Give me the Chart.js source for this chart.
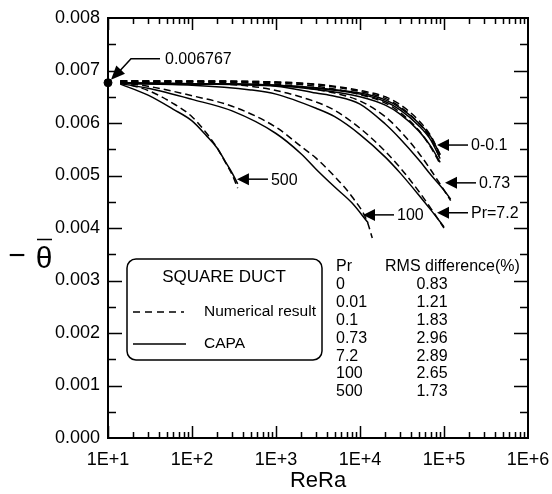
<!DOCTYPE html>
<html>
<head>
<meta charset="utf-8">
<script src="https://cdn.jsdelivr.net/npm/chart.js@4/dist/chart.umd.min.js"></script>
<style>
html, body { margin: 0; padding: 0; background: #fff; }
</style>
</head>
<body>
<canvas id="chart" width="552" height="494"></canvas>
<script>
// axis ticks
const xTickValues = [1e1, 1e2, 1e3, 1e4, 1e5, 1e6];
const xTickLabels = ['1E+1', '1E+2', '1E+3', '1E+4', '1E+5', '1E+6'];
const yTickValues = [0, 0.001, 0.002, 0.003, 0.004, 0.005, 0.006, 0.007, 0.008];
const yTickLabels = ['0.000', '0.001', '0.002', '0.003', '0.004', '0.005', '0.006', '0.007', '0.008'];

// Pr = 0, 0.01, 0.1
const lowPrX = [14, 100, 1000, 3000, 10000, 20000, 30000, 50000, 70000, 90000];
const pr0Num = [0.00680, 0.00680, 0.00678, 0.00674, 0.00662, 0.00650, 0.00635, 0.00605, 0.00575, 0.00540];
const pr0Capa = [0.00676, 0.00675, 0.00672, 0.00667, 0.00657, 0.00644, 0.00629, 0.00600, 0.00573, 0.00539];
const pr001Num = [0.00680, 0.00680, 0.00678, 0.00673, 0.00660, 0.00647, 0.00631, 0.00600, 0.00569, 0.00533];
const pr001Capa = [0.00676, 0.00675, 0.00672, 0.00666, 0.00655, 0.00641, 0.00625, 0.00595, 0.00567, 0.00532];
const pr01Num = [0.00680, 0.00679, 0.00676, 0.00670, 0.00654, 0.00638, 0.00620, 0.00586, 0.00553, 0.00522];
const pr01Capa = [0.00676, 0.00675, 0.00671, 0.00664, 0.00650, 0.00634, 0.00617, 0.00585, 0.00555, 0.00525];

// Pr = 0.73
const pr073X = [14, 100, 1000, 3000, 5000, 10000, 20000, 30000, 50000, 70000, 100000, 120000];
const pr073Num = [0.00679, 0.00678, 0.00674, 0.00664, 0.00657, 0.00642, 0.00612, 0.00585, 0.00543, 0.00510, 0.00472, 0.00452];
const pr073Capa = [0.00676, 0.00674, 0.00670, 0.00657, 0.00651, 0.00636, 0.00598, 0.00570, 0.00530, 0.00501, 0.00472, 0.00455];

// Pr = 7.2
const pr72X = [14, 100, 500, 1000, 3000, 5000, 10000, 20000, 30000, 50000, 70000, 100000];
const pr72Num = [0.00678, 0.00676, 0.00670, 0.00662, 0.00640, 0.00624, 0.00590, 0.00546, 0.00515, 0.00470, 0.00437, 0.00400];
const pr72Capa = [0.00675, 0.00672, 0.00663, 0.00655, 0.00628, 0.00612, 0.00578, 0.00535, 0.00505, 0.00463, 0.00434, 0.00402];

// Pr = 100
const pr100NumX = [14, 30, 100, 300, 1000, 2000, 3000, 5000, 8000, 12000, 14000];
const pr100Num = [0.00677, 0.00670, 0.00652, 0.00632, 0.00592, 0.00555, 0.00533, 0.00498, 0.00460, 0.00415, 0.00381];
const pr100CapaX = [14, 30, 100, 300, 1000, 2000, 3000, 5000, 8000, 12500];
const pr100Capa = [0.00675, 0.00666, 0.00645, 0.00623, 0.00580, 0.00541, 0.00512, 0.00478, 0.00448, 0.00410];

// Pr = 500
const pr500X = [14, 30, 60, 100, 150, 200, 250, 300, 350];
const pr500Num = [0.00677, 0.00662, 0.00637, 0.00612, 0.00580, 0.00552, 0.00525, 0.00502, 0.00476];
const pr500Capa = [0.00674, 0.00653, 0.00626, 0.00604, 0.00575, 0.00552, 0.00526, 0.00505, 0.00484];

// limit value at ReRa = 10
const startX = [10];
const startY = [0.006767];
const startLabel = '0.006767';

// arrow labels
const arrowLabels = ['0-0.1', '0.73', 'Pr=7.2', '100', '500'];
const arrowX = [82600, 102800, 82600, 10860, 343];
const arrowY = [0.00558, 0.00486, 0.00429, 0.00425, 0.00493];

// RMS table
const tablePr = ['0', '0.01', '0.1', '0.73', '7.2', '100', '500'];
const tableRms = ['0.83', '1.21', '1.83', '2.96', '2.89', '2.65', '1.73'];

const FONT = "'Liberation Sans', Arial, sans-serif";

function pts(xs, ys) {
    return xs.map((x, i) => ({ x: x, y: ys[i] }));
}

function series(xs, ys, dashed) {
    return {
        data: pts(xs, ys),
        showLine: true,
        borderColor: '#000',
        borderWidth: 1.5,
        borderDash: dashed ? [7, 4] : [],
        pointRadius: 0,
        cubicInterpolationMode: 'monotone',
        fill: false
    };
}

const datasets = [
    series(lowPrX, pr0Num, true), series(lowPrX, pr0Capa, false),
    series(lowPrX, pr001Num, true), series(lowPrX, pr001Capa, false),
    series(lowPrX, pr01Num, true), series(lowPrX, pr01Capa, false),
    series(pr073X, pr073Num, true), series(pr073X, pr073Capa, false),
    series(pr72X, pr72Num, true), series(pr72X, pr72Capa, false),
    series(pr100NumX, pr100Num, true), series(pr100CapaX, pr100Capa, false),
    series(pr500X, pr500Num, true), series(pr500X, pr500Capa, false),
    {
        data: pts(startX, startY),
        showLine: false,
        pointRadius: 4,
        pointBackgroundColor: '#000',
        pointBorderColor: '#000',
        clip: false
    }
];

// frame, inward ticks, arrows, legend box, table
const decor = {
    id: 'decor',
    afterDraw(chart) {
        const ctx = chart.ctx;
        const { left, right, top, bottom } = chart.chartArea;
        const xs = chart.scales.x, ys = chart.scales.y;
        ctx.save();
        ctx.strokeStyle = '#000';
        ctx.fillStyle = '#000';

        // frame
        ctx.lineWidth = 2;
        ctx.strokeRect(left, top, right - left, bottom - top);

        // x ticks (top & bottom)
        ctx.lineWidth = 1.5;
        ctx.beginPath();
        for (let d = 10; d < 1e6; d *= 10) {
            for (let m = 1; m <= 9; m++) {
                const px = Math.round(xs.getPixelForValue(d * m)) + 0.5;
                const len = m === 1 ? 12 : 6;
                ctx.moveTo(px, bottom); ctx.lineTo(px, bottom - len);
                ctx.moveTo(px, top); ctx.lineTo(px, top + len);
            }
        }
        // y ticks (left & right)
        for (let i = 1; i < 16; i++) {
            const py = Math.round(ys.getPixelForValue(i * 0.0005)) + 0.5;
            const len = i % 2 === 0 ? 14 : 8;
            ctx.moveTo(left, py); ctx.lineTo(left + len, py);
            ctx.moveTo(right, py); ctx.lineTo(right - len, py);
        }
        ctx.stroke();

        // y axis title
        ctx.textAlign = 'center';
        ctx.textBaseline = 'middle';
        ctx.font = '30px ' + FONT;
        ctx.fillText('\u2212', 17, 257);
        ctx.fillText('\u03B8', 44, 260);
        ctx.lineWidth = 1.5;
        ctx.beginPath();
        ctx.moveTo(37, 239.5); ctx.lineTo(52, 239.5);
        ctx.stroke();

        // arrows
        ctx.font = '16px ' + FONT;
        ctx.textAlign = 'left';
        arrowLabels.forEach((lab, i) => {
            const tx = xs.getPixelForValue(arrowX[i]);
            const ty = ys.getPixelForValue(arrowY[i]);
            ctx.beginPath();
            ctx.moveTo(tx, ty);
            ctx.lineTo(tx + 12, ty - 6);
            ctx.lineTo(tx + 12, ty + 6);
            ctx.closePath();
            ctx.fill();
            ctx.beginPath();
            ctx.moveTo(tx + 10, ty); ctx.lineTo(tx + 31, ty);
            ctx.stroke();
            ctx.fillText(lab, tx + 34, ty + 1);
        });

        // start value arrow
        const sx = xs.getPixelForValue(startX[0]);
        const sy = ys.getPixelForValue(startY[0]);
        const hx = sx + 3, hy = sy - 3;
        const ang = Math.atan2(-21, 20);
        ctx.beginPath();
        ctx.moveTo(hx, hy);
        ctx.lineTo(hx + 14 * Math.cos(ang) - 6 * Math.sin(ang), hy + 14 * Math.sin(ang) + 6 * Math.cos(ang));
        ctx.lineTo(hx + 14 * Math.cos(ang) + 6 * Math.sin(ang), hy + 14 * Math.sin(ang) - 6 * Math.cos(ang));
        ctx.closePath();
        ctx.fill();
        ctx.beginPath();
        ctx.moveTo(hx + 8, hy - 8);
        ctx.lineTo(sx + 23, sy - 24);
        ctx.lineTo(sx + 52, sy - 24);
        ctx.stroke();
        ctx.fillText(startLabel, sx + 57, sy - 23);

        // legend box
        const bx = left + 19, by = top + 241, bw = 195, bh = 101, r = 9;
        ctx.lineWidth = 1.5;
        ctx.beginPath();
        ctx.roundRect(bx, by, bw, bh, r);
        ctx.stroke();
        ctx.font = '17px ' + FONT;
        ctx.textAlign = 'center';
        ctx.fillText('SQUARE DUCT', bx + 97, by + 18);
        ctx.textAlign = 'left';
        ctx.font = '15.5px ' + FONT;
        ctx.beginPath();
        ctx.setLineDash([7, 5]);
        ctx.moveTo(bx + 6, by + 53); ctx.lineTo(bx + 57, by + 53);
        ctx.stroke();
        ctx.setLineDash([]);
        ctx.beginPath();
        ctx.moveTo(bx + 6, by + 85); ctx.lineTo(bx + 59, by + 85);
        ctx.stroke();
        ctx.fillText('Numerical result', bx + 77, by + 53);
        ctx.fillText('CAPA', bx + 77, by + 85);

        // RMS table
        ctx.font = '16px ' + FONT;
        ctx.fillText('Pr', 336, 267);
        ctx.fillText('RMS difference(%)', 385, 267);
        tablePr.forEach((p, i) => {
            const ry = 285 + i * 17.8;
            ctx.textAlign = 'left';
            ctx.fillText(p, 336, ry);
            ctx.textAlign = 'center';
            ctx.fillText(tableRms[i], 432, ry);
        });
        ctx.restore();
    }
};

new Chart(document.getElementById('chart').getContext('2d'), {
    type: 'scatter',
    data: { datasets: datasets },
    options: {
        responsive: false,
        animation: false,
        devicePixelRatio: 1,
        layout: { padding: { left: 0, right: 24, top: 18, bottom: 0 } },
        plugins: { legend: { display: false }, tooltip: { enabled: false } },
        scales: {
            x: {
                type: 'logarithmic',
                min: 10,
                max: 1e6,
                grid: { display: false, drawTicks: false },
                border: { display: false },
                afterBuildTicks: (s) => { s.ticks = xTickValues.map(v => ({ value: v })); },
                afterFit: (s) => { s.height = 56; s.paddingLeft = 0; s.paddingRight = 0; },
                ticks: {
                    autoSkip: false,
                    maxRotation: 0,
                    padding: 11,
                    color: '#000',
                    font: { family: FONT, size: 18 },
                    callback: (v) => { const i = xTickValues.indexOf(v); return i >= 0 ? xTickLabels[i] : ''; }
                },
                title: {
                    display: true,
                    text: 'ReRa',
                    color: '#000',
                    font: { family: FONT, size: 22 },
                    padding: { top: 0, bottom: 0 }
                }
            },
            y: {
                min: 0,
                max: 0.008,
                grid: { display: false, drawTicks: false },
                border: { display: false },
                afterBuildTicks: (s) => { s.ticks = yTickValues.map(v => ({ value: v })); },
                afterFit: (s) => { s.width = 108; s.paddingTop = 0; s.paddingBottom = 0; },
                ticks: {
                    padding: 8,
                    color: '#000',
                    font: { family: FONT, size: 18 },
                    callback: (v) => { const i = yTickValues.findIndex(t => Math.abs(t - v) < 1e-9); return i >= 0 ? yTickLabels[i] : ''; }
                }
            }
        }
    },
    plugins: [decor]
});
</script>
</body>
</html>
